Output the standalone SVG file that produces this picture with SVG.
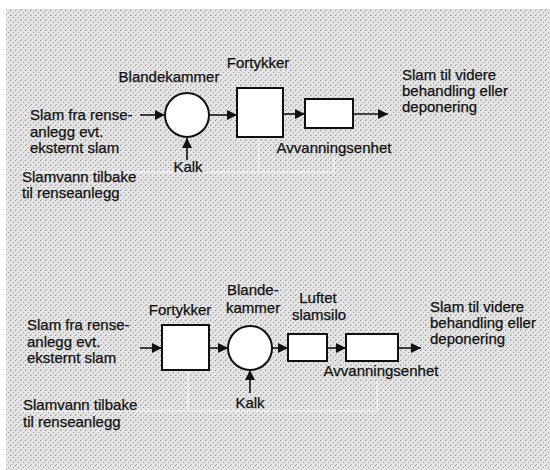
<svg xmlns="http://www.w3.org/2000/svg" width="550" height="470" viewBox="0 0 550 470">
<defs>
<pattern id="stip" x="0" y="0" width="5" height="5" patternUnits="userSpaceOnUse">
<rect width="5" height="5" fill="#e4e4e4"/>
<rect x="0" y="0" width="1" height="1" fill="#8a8a8a"/>
<rect x="3" y="2" width="1" height="1" fill="#9a9a9a"/>
<rect x="1" y="4" width="1" height="1" fill="#b0b0b0"/>
</pattern>
<marker id="ah" viewBox="0 0 10 10" refX="10" refY="5" markerWidth="12" markerHeight="10" markerUnits="userSpaceOnUse" orient="auto">
<path d="M0,0 L10,5 L0,10 z" fill="#111"/>
</marker>
<style>
text{font-family:"Liberation Sans",Arial,sans-serif;font-size:15px;fill:#111;stroke:#111;stroke-width:0.25}
.box{fill:#fff;stroke:#111;stroke-width:2}
.flow{stroke:#111;stroke-width:1.6;fill:none;marker-end:url(#ah)}
.ret{stroke:#fff;stroke-width:1.5;fill:none;opacity:0.6}
.c{text-anchor:middle}
</style>
</defs>
<rect width="550" height="470" fill="#fff"/>
<rect x="6" y="9" width="544" height="461" fill="url(#stip)"/>

<g id="connectors">
<line class="flow" x1="140" y1="115" x2="165" y2="115"/>
<line class="flow" x1="187" y1="160" x2="187" y2="138"/>
<line class="flow" x1="209" y1="115" x2="237" y2="115"/>
<line class="flow" x1="283" y1="114" x2="305" y2="114"/>
<line class="flow" x1="353" y1="114" x2="388" y2="114"/>
<path class="ret" d="M259,137 V172 M334,157 V172 M20,172 H334"/>
<line class="flow" x1="140" y1="348" x2="162" y2="348"/>
<line class="flow" x1="209" y1="348" x2="228" y2="348"/>
<line class="flow" x1="250" y1="393" x2="250" y2="370"/>
<line class="flow" x1="272" y1="348" x2="288" y2="348"/>
<line class="flow" x1="327" y1="348" x2="346" y2="348"/>
<line class="flow" x1="398" y1="348" x2="421" y2="348"/>
<path class="ret" d="M188,370 V411 M377,381 V411 M20,411 H377"/>
</g>

<g id="top-input"><text x="30" y="120">Slam fra rense-</text><text x="30" y="137">anlegg evt.</text><text x="30" y="153">eksternt slam</text></g>
<g id="top-blandekammer"><circle cx="187" cy="115" r="22" class="box"/><text x="169" y="82" class="c">Blandekammer</text></g>
<g id="top-kalk"><text x="188" y="172" class="c">Kalk</text></g>
<g id="top-fortykker"><rect x="237" y="88" width="46" height="49" class="box"/><text x="258" y="68" class="c">Fortykker</text></g>
<g id="top-avvanning"><rect x="305" y="99" width="48" height="29" class="box"/><text x="334" y="153" class="c">Avvanningsenhet</text></g>
<g id="top-output"><text x="402" y="80">Slam til videre</text><text x="402" y="96">behandling eller</text><text x="402" y="112">deponering</text></g>
<g id="top-slamvann"><text x="22" y="182">Slamvann tilbake</text><text x="22" y="198">til renseanlegg</text></g>

<g id="bot-input"><text x="27" y="330">Slam fra rense-</text><text x="27" y="347">anlegg evt.</text><text x="27" y="363">eksternt slam</text></g>
<g id="bot-fortykker"><rect x="162" y="325" width="47" height="45" class="box"/><text x="180" y="315" class="c">Fortykker</text></g>
<g id="bot-blandekammer"><circle cx="250" cy="348" r="22" class="box"/><text x="227" y="295">Blande-</text><text x="226" y="313">kammer</text></g>
<g id="bot-kalk"><text x="250" y="408" class="c">Kalk</text></g>
<g id="bot-luftet"><rect x="288" y="334" width="39" height="27" class="box"/><text x="318" y="303" class="c">Luftet</text><text x="319" y="320" class="c">slamsilo</text></g>
<g id="bot-avvanning"><rect x="346" y="334" width="52" height="27" class="box"/><text x="381" y="376" class="c">Avvanningsenhet</text></g>
<g id="bot-output"><text x="430" y="312">Slam til videre</text><text x="430" y="328">behandling eller</text><text x="430" y="344">deponering</text></g>
<g id="bot-slamvann"><text x="23" y="410">Slamvann tilbake</text><text x="23" y="427">til renseanlegg</text></g>
</svg>
